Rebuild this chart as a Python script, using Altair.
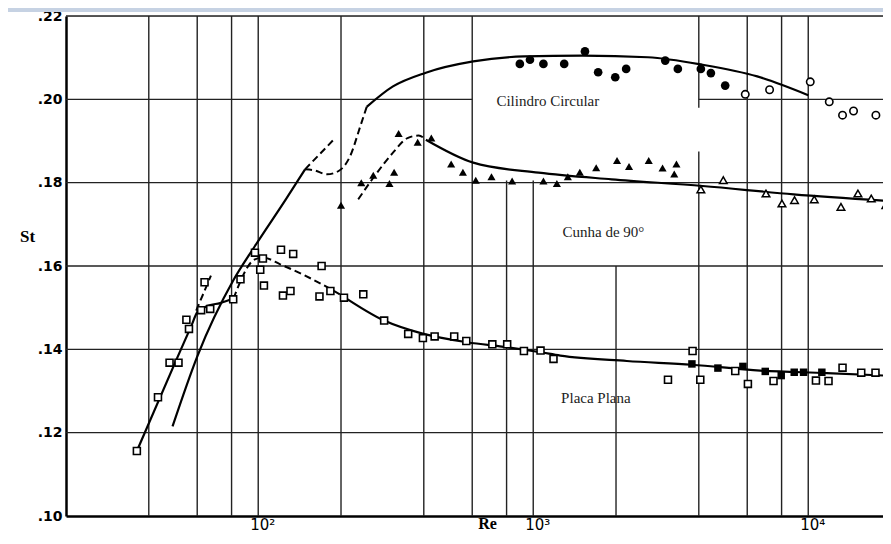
import altair as alt
import pandas as pd

# ---------------- data ----------------
# Placa Plana (flat plate) - open squares
plate_open_re = [36.2, 43.2, 47.6, 51.3, 54.8, 56.0, 62.0, 66.9, 63.8, 81.1, 86.2, 97.3, 104, 101.7,
                 104.9, 121, 134, 123, 131, 170, 167, 183, 205, 241, 287, 351, 397, 438, 516, 571,
                 710, 804, 925, 1063, 1185, 3797, 3090, 4050, 5427, 6034, 7478, 10666, 11851,
                 13326, 15585, 17562]
plate_open_st = [0.1156, 0.1285, 0.1368, 0.1368, 0.1471, 0.1449, 0.1494, 0.1497, 0.1561, 0.1520,
                 0.1568, 0.1632, 0.1618, 0.1591, 0.1553, 0.1639, 0.1629, 0.1529, 0.1540, 0.1600,
                 0.1527, 0.1540, 0.1524, 0.1532, 0.1469, 0.1437, 0.1427, 0.1431, 0.1431, 0.1420,
                 0.1412, 0.1412, 0.1396, 0.1397, 0.1377, 0.1396, 0.1327, 0.1327, 0.1348, 0.1317,
                 0.1324, 0.1325, 0.1324, 0.1356, 0.1344, 0.1344]
# flat plate - filled squares
plate_fill_re = [3776, 4694, 5787, 6977, 7976, 8893, 9617, 11207]
plate_fill_st = [0.1365, 0.1355, 0.1359, 0.1347, 0.1337, 0.1345, 0.1345, 0.1345]

# Cunha de 90 (wedge) - filled triangles
wedge_fill_re = [200, 237, 262, 300, 312, 324, 380, 426, 503, 555, 618, 705, 838, 1089, 1219,
                 1336, 1477, 1694, 2017, 2230, 2630, 2953, 3317, 3257]
wedge_fill_st = [0.1746, 0.1800, 0.1818, 0.1798, 0.1825, 0.1918, 0.1897, 0.1907, 0.1845, 0.1825,
                 0.1806, 0.1814, 0.1804, 0.1804, 0.1798, 0.1814, 0.1825, 0.1836, 0.1853, 0.1839,
                 0.1853, 0.1835, 0.1845, 0.1821]
# wedge - open triangles
wedge_open_re = [4069, 4910, 7021, 8025, 8913, 10515, 13150, 15160, 16950, 19150]
wedge_open_st = [0.1784, 0.1806, 0.1774, 0.1750, 0.1758, 0.1760, 0.1742, 0.1774, 0.1762, 0.1746]

# Cilindro Circular - filled circles
cyl_fill_re = [894, 973, 1089, 1296, 1542, 1722, 1987, 2177, 3020, 3356, 4069, 4426, 4989]
cyl_fill_st = [0.2085, 0.2095, 0.2085, 0.2085, 0.2115, 0.2065, 0.2053, 0.2073, 0.2093, 0.2073,
               0.2073, 0.2063, 0.2033]
# cylinder - open circles
cyl_open_re = [5902, 7235, 10170, 11925, 13326, 14612, 17620]
cyl_open_st = [0.2012, 0.2023, 0.2042, 0.1994, 0.1962, 0.1972, 0.1962]

# ---- fitted curves ----
plate_lam_re = [36.2, 50.0, 57.0, 60.2, 66.0, 72.7, 81.3]
plate_lam_st = [0.1156, 0.1370, 0.1455, 0.1490, 0.1505, 0.1511, 0.1522]
plate_ext_re = [59.5, 67.3]
plate_ext_st = [0.1493, 0.1577]
plate_tr_re = [81.3, 97.3, 104.5, 120.2, 183, 201.5]
plate_tr_st = [0.1522, 0.1616, 0.1620, 0.1604, 0.1545, 0.1529]
plate_turb_re = [201.5, 287, 399, 575, 802, 1063, 1254, 2190, 3776, 6690, 11687, 19055]
plate_turb_st = [0.1529, 0.1469, 0.1437, 0.1417, 0.1405, 0.1393, 0.1385, 0.1372, 0.1363, 0.1349,
                 0.1343, 0.1337]

cyl_lam_re = [48.8, 60.2, 81.1, 97.3, 126, 148]
cyl_lam_st = [0.1215, 0.1385, 0.1565, 0.1648, 0.1760, 0.1832]
cyl_ext_re = [148, 190.5]
cyl_ext_st = [0.1832, 0.1907]
cyl_tr_re = [148, 159, 178, 196, 216, 235, 248]
cyl_tr_st = [0.1832, 0.1830, 0.1820, 0.1828, 0.1864, 0.1935, 0.1982]
cyl_up_re = [248, 309, 407, 605, 927, 1507, 2611, 4130, 6524, 10000]
cyl_up_st = [0.1982, 0.2031, 0.2064, 0.2091, 0.2103, 0.2105, 0.2101, 0.2083, 0.2055, 0.2010]

wedge_tr_re = [231, 265, 309, 349, 383, 407]
wedge_tr_st = [0.1760, 0.1816, 0.1872, 0.1907, 0.1913, 0.1903]
wedge_turb_re = [407, 605, 1046, 1927, 4130, 8850, 19900]
wedge_turb_st = [0.1903, 0.1848, 0.1824, 0.1808, 0.1792, 0.1772, 0.1756]

# annotations
label_text = ["Cilindro Circular", "Cunha de 90°", "Placa Plana"]
label_re = [1130, 1800, 1690]
label_st = [0.1995, 0.1681, 0.1284]

# grid lines (value, start, end)
vgrid_re = [40, 60, 80, 100, 200, 400, 600, 800, 1000, 2000, 4000, 4000, 6000, 8000, 10000]
vgrid_st1 = [0.10, 0.10, 0.10, 0.10, 0.10, 0.10, 0.10, 0.10, 0.10, 0.10, 0.10, 0.198, 0.10, 0.10, 0.10]
vgrid_st2 = [0.22, 0.22, 0.22, 0.22, 0.22, 0.22, 0.22, 0.1805, 0.1805, 0.16, 0.1875, 0.22, 0.22, 0.22, 0.22]
hgrid_st = [0.12, 0.14, 0.16, 0.18, 0.20, 0.20, 0.22]
hgrid_re1 = [20, 20, 20, 20, 20, 4000, 20]
hgrid_re2 = [18700, 18700, 18700, 18700, 600, 18700, 18700]

y_ticks = [0.10, 0.12, 0.14, 0.16, 0.18, 0.20, 0.22]
x_ticks = [100, 1000, 10000]

# ---------------- tables ----------------
def pts(re, st, kind):
    return pd.DataFrame({"Re": re, "St": st, "kind": kind})

points = pd.concat([
    pts(plate_open_re, plate_open_st, "sq_open"),
    pts(plate_fill_re, plate_fill_st, "sq_fill"),
    pts(wedge_fill_re, wedge_fill_st, "tri_fill"),
    pts(wedge_open_re, wedge_open_st, "tri_open"),
    pts(cyl_fill_re, cyl_fill_st, "circ_fill"),
    pts(cyl_open_re, cyl_open_st, "circ_open"),
], ignore_index=True)

def curve(re, st, name, dashed):
    return pd.DataFrame({"Re": re, "St": st, "curve": name, "i": list(range(len(re))),
                         "dashed": dashed})

curves = pd.concat([
    curve(plate_lam_re, plate_lam_st, "plate_lam", False),
    curve(plate_ext_re, plate_ext_st, "plate_ext", True),
    curve(plate_tr_re, plate_tr_st, "plate_tr", True),
    curve(plate_turb_re, plate_turb_st, "plate_turb", False),
    curve(cyl_lam_re, cyl_lam_st, "cyl_lam", False),
    curve(cyl_ext_re, cyl_ext_st, "cyl_ext", True),
    curve(cyl_tr_re, cyl_tr_st, "cyl_tr", True),
    curve(cyl_up_re, cyl_up_st, "cyl_up", False),
    curve(wedge_tr_re, wedge_tr_st, "wedge_tr", True),
    curve(wedge_turb_re, wedge_turb_st, "wedge_turb", False),
], ignore_index=True)

labels = pd.DataFrame({"Re": label_re, "St": label_st, "text": label_text})
vgrid = pd.DataFrame({"Re": vgrid_re, "St1": vgrid_st1, "St2": vgrid_st2})
hgrid = pd.DataFrame({"St": hgrid_st, "Re1": hgrid_re1, "Re2": hgrid_re2})

# ---------------- scales / axes ----------------
xs = alt.Scale(type="log", domain=[20, 18700], nice=False)
ys = alt.Scale(domain=[0.10, 0.22], nice=False, zero=False)

x_axis = alt.Axis(
    values=x_ticks,
    labelExpr="datum.value == 100 ? '10²' : (datum.value == 1000 ? '10³' : '10⁴')",
    title="Re", titleX=421, titleY=7, titleAlign="center", titleBaseline="middle",
    titleFont="Liberation Serif", titleFontSize=16, titleFontWeight="bold", titleColor="black",
    labelFont="DejaVu Sans", labelFontSize=15, labelColor="black", labelPadding=1, labelOffset=4,
    labelFlush=False, labelOverlap=False, labelBound=False,
    ticks=False, grid=False, domainColor="black", domainWidth=2.5,
)
y_axis = alt.Axis(
    values=y_ticks,
    labelExpr="substring(format(datum.value, '.2f'), 1)",
    title="St", titleAngle=0, titleX=-39, titleY=220, titleAlign="center", titleBaseline="middle",
    titleFont="Liberation Serif", titleFontSize=17, titleFontWeight="bold", titleColor="black",
    labelFont="DejaVu Sans", labelFontWeight="bold", labelFontSize=14, labelColor="black",
    labelPadding=4, labelFlush=False, labelOverlap=False, labelBound=False,
    ticks=False, grid=False, domainColor="black", domainWidth=2.5,
)

def X(field):
    return alt.X(field, type="quantitative", scale=xs, axis=x_axis)

def Y(field):
    return alt.Y(field, type="quantitative", scale=ys, axis=y_axis)

grid_color = "#222222"

vg = alt.Chart(vgrid).mark_rule(color=grid_color, strokeWidth=1.4).encode(
    x=X("Re"), y=Y("St1"), y2="St2")
hg = alt.Chart(hgrid).mark_rule(color=grid_color, strokeWidth=1.4).encode(
    y=Y("St"), x=X("Re1"), x2="Re2")

solid = alt.Chart(curves).transform_filter("!datum.dashed").mark_line(
    color="black", strokeWidth=2.2, interpolate="monotone", clip=True).encode(
    x=X("Re"), y=Y("St"), detail="curve:N", order="i:Q")
dashed = alt.Chart(curves).transform_filter("datum.dashed").mark_line(
    color="black", strokeWidth=2.0, strokeDash=[7, 4], interpolate="monotone", clip=True).encode(
    x=X("Re"), y=Y("St"), detail="curve:N", order="i:Q")

def layer_pts(kind, **mk):
    return alt.Chart(points).transform_filter(f"datum.kind == '{kind}'").mark_point(
        opacity=1, clip=True, **mk).encode(x=X("Re"), y=Y("St"))

sq_open = layer_pts("sq_open", shape="square", filled=True, fill="white", stroke="black",
                    strokeWidth=1.6, size=48)
sq_fill = layer_pts("sq_fill", shape="square", filled=True, color="black", size=56)
tri_fill = layer_pts("tri_fill", shape="triangle-up", filled=True, color="black", size=66)
tri_open = layer_pts("tri_open", shape="triangle-up", filled=True, fill="white", stroke="black",
                     strokeWidth=1.5, size=58)
circ_fill = layer_pts("circ_fill", shape="circle", filled=True, color="black", size=75)
circ_open = layer_pts("circ_open", shape="circle", filled=True, fill="white", stroke="black",
                      strokeWidth=1.6, size=55)

text = alt.Chart(labels).mark_text(font="Liberation Serif", fontSize=15, color="#222222",
                                   align="center", baseline="middle").encode(
    x=X("Re"), y=Y("St"), text="text:N")

topbar = alt.Chart(labels).mark_rule(color="#c6d2e3", strokeWidth=4).encode(
    x=alt.value(-58), x2=alt.value(817), y=alt.value(-6))

chart = alt.layer(
    vg, hg, solid, dashed, sq_open, sq_fill, tri_fill, tri_open, circ_fill, circ_open, text, topbar
).properties(
    width=817, height=500,
    autosize=alt.AutoSizeParams(type="none"),
    padding={"left": 58, "top": 8, "right": 0, "bottom": 18},
).configure_view(stroke=None).configure(background="white")

chart.save("out.html", embed_options={"renderer": "svg", "actions": False})
